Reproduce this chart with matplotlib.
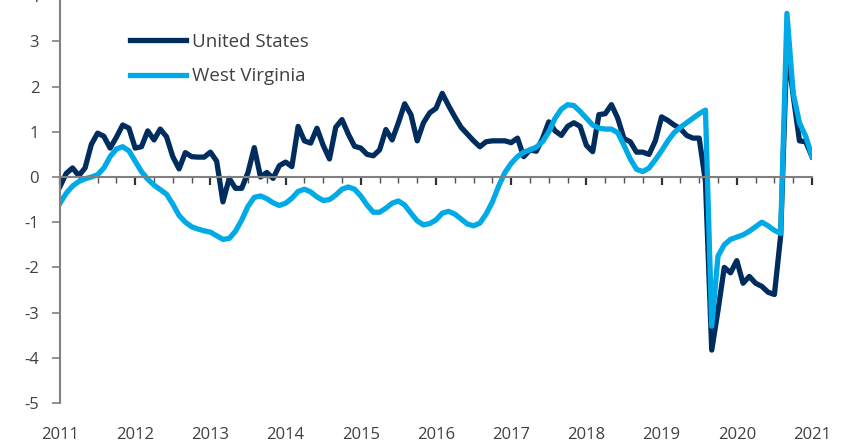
import matplotlib
matplotlib.use("Agg")
import matplotlib.pyplot as plt
import matplotlib.transforms as mtransforms
import numpy as np

plt.rcParams["font.family"] = ["Open Sans", "DejaVu Sans"]
plt.rcParams["axes.unicode_minus"] = False

# monthly values, Jan 2011 .. Jan 2021
us = [-0.21, 0.08, 0.2, 0.03, 0.2, 0.72, 0.97, 0.9, 0.64, 0.88, 1.15, 1.08,
      0.64, 0.67, 1.02, 0.82, 1.06, 0.89, 0.45, 0.18, 0.54, 0.45, 0.44, 0.44,
      0.55, 0.35, -0.55, -0.03, -0.25, -0.25, 0.1, 0.65, 0.0, 0.1, -0.03, 0.25,
      0.33, 0.23, 1.12, 0.8, 0.75, 1.08, 0.7, 0.4, 1.1, 1.27, 0.95, 0.68,
      0.64, 0.5, 0.47, 0.6, 1.05, 0.82, 1.2, 1.62, 1.38, 0.8, 1.2, 1.42,
      1.52, 1.85, 1.58, 1.33, 1.1, 0.95, 0.8, 0.67, 0.78, 0.8, 0.8, 0.8,
      0.76, 0.86, 0.45, 0.6, 0.57, 0.85, 1.22, 1.02, 0.92, 1.12, 1.2, 1.12,
      0.7, 0.56, 1.38, 1.4, 1.6, 1.3, 0.85, 0.78, 0.55, 0.55, 0.5, 0.8,
      1.33, 1.25, 1.15, 1.07, 0.92, 0.86, 0.86, -0.1, -3.83, -2.95, -2.0, -2.12,
      -1.85, -2.35, -2.2, -2.35, -2.42, -2.55, -2.6, -1.3, 2.9, 1.8, 0.8, 0.78,
      0.45]

wv = [-0.58, -0.36, -0.2, -0.1, -0.04, 0.0, 0.05, 0.2, 0.45, 0.62, 0.67, 0.58,
      0.35, 0.12, -0.05, -0.18, -0.28, -0.38, -0.6, -0.85, -1.0, -1.1, -1.15, -1.19,
      -1.22, -1.3, -1.38, -1.36, -1.2, -0.95, -0.65, -0.45, -0.42, -0.48, -0.57, -0.63,
      -0.58, -0.47, -0.32, -0.27, -0.33, -0.44, -0.52, -0.5, -0.4, -0.27, -0.22, -0.27,
      -0.42, -0.62, -0.78, -0.78, -0.69, -0.58, -0.53, -0.62, -0.8, -0.97, -1.06, -1.03,
      -0.95, -0.8, -0.76, -0.82, -0.93, -1.04, -1.08, -1.02, -0.82, -0.55, -0.2, 0.1,
      0.3, 0.45, 0.55, 0.6, 0.66, 0.78, 1.0, 1.3, 1.5, 1.6, 1.58, 1.45,
      1.3, 1.15, 1.08, 1.06, 1.06, 0.98, 0.7, 0.4, 0.17, 0.12, 0.2, 0.38,
      0.58, 0.8, 0.98, 1.1, 1.2, 1.3, 1.4, 1.48, -3.3, -1.75, -1.5, -1.38,
      -1.33, -1.28, -1.2, -1.1, -1.0, -1.08, -1.18, -1.25, 3.62, 1.85, 1.2, 0.9,
      0.45]

years = list(range(2011, 2022))
x = 2011 + np.arange(len(us)) / 12.0

NAVY = "#002d5e"
LIGHT = "#00aae6"
GREY = "#404040"
AXIS = "#808080"

fig = plt.figure(figsize=(8.43, 4.45), dpi=100)
# y=-5 sits at pixel 403, y=4 just above the top edge
ax = fig.add_axes([60 / 843, 42 / 445, 752 / 843, 406.8 / 445])

ax.plot(x, us, color=NAVY, lw=3.8, label="United States")
ax.plot(x, wv, color=LIGHT, lw=3.8, label="West Virginia")

ax.set_xlim(2011, 2021)
ax.set_ylim(-5, 4)

for s in ["top", "right"]:
    ax.spines[s].set_visible(False)
ax.spines["bottom"].set_position(("data", 0))
for s in ["left", "bottom"]:
    ax.spines[s].set_color(AXIS)
    ax.spines[s].set_linewidth(1.5)

ax.set_yticks(range(-5, 5))
ax.tick_params(axis="y", direction="out", length=6, width=1.2, color=AXIS,
               pad=9, labelsize=12, labelcolor=GREY)

ax.set_xticks(years)
ax.set_xticks(np.arange(2011, 2021.01, 0.25), minor=True)
ax.tick_params(axis="x", which="major", direction="out", length=6, width=1.6,
               color="#303030", labelbottom=False)
ax.tick_params(axis="x", which="minor", direction="out", length=4.5, width=1.0,
               color="#505050")

trans = mtransforms.blended_transform_factory(ax.transData, fig.transFigure)
for yr in years:
    ax.text(yr, 1 - 435 / 445, str(yr), transform=trans, ha="center",
            va="center", fontsize=12, color=GREY, clip_on=False)

ax.legend(loc="upper left", bbox_to_anchor=(130 / 843, 1 - 33 / 445),
          bbox_transform=fig.transFigure, frameon=False, fontsize=13.5,
          handlelength=3.0, handletextpad=0.3, labelspacing=0.87,
          borderpad=0, borderaxespad=0, labelcolor=GREY)

fig.savefig("out.png", dpi=100)
